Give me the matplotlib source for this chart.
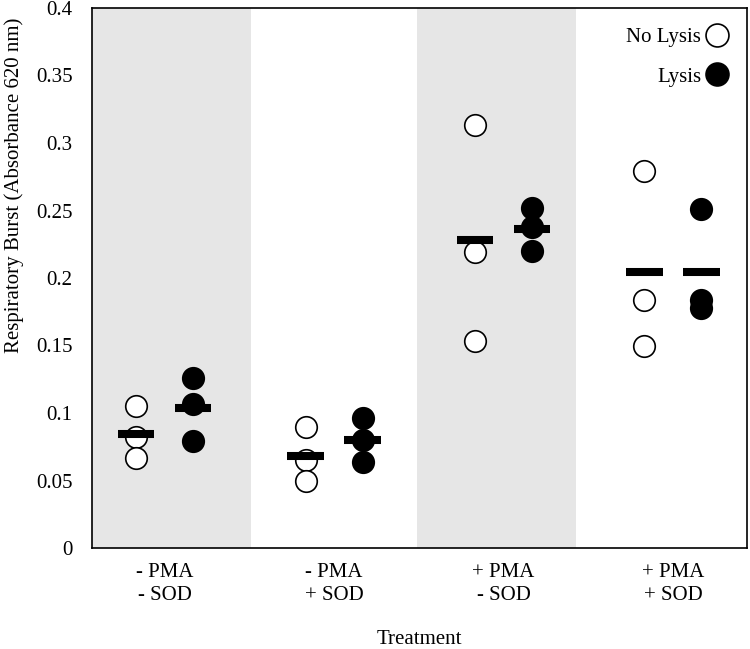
import matplotlib
matplotlib.use("Agg")
import matplotlib.pyplot as plt
import numpy as np

plt.rcParams['font.family'] = ['Liberation Serif', 'DejaVu Serif']

categories = ["- PMA\n- SOD", "- PMA\n+ SOD", "+ PMA\n- SOD", "+ PMA\n+ SOD"]
no_lysis = [
    [0.105, 0.082, 0.067],
    [0.090, 0.065, 0.050],
    [0.313, 0.219, 0.153],
    [0.279, 0.184, 0.150],
]
lysis = [
    [0.126, 0.107, 0.079],
    [0.096, 0.080, 0.064],
    [0.252, 0.238, 0.220],
    [0.251, 0.184, 0.178],
]
shaded_groups = [0, 2]

fig = plt.figure(figsize=(7.5, 6.49), dpi=100)
ax = fig.add_axes([92/750, 101/649, 655/750, 540/649])

centers = 0.443 + 1.035 * np.arange(len(categories))
off = 0.174

for g in shaded_groups:
    ax.axvspan(g * 0.9925, g * 0.9925 + 0.97, color='#e6e6e6', zorder=0, lw=0)

ms = 15.5
for i in range(len(categories)):
    xo = centers[i] - off
    xl = centers[i] + off
    ax.plot([xo] * len(no_lysis[i]), no_lysis[i], 'o', ms=ms, mfc='white',
            mec='black', mew=1.2, ls='none', zorder=3)
    ax.plot([xl] * len(lysis[i]), lysis[i], 'o', ms=ms, mfc='black',
            mec='black', mew=1.2, ls='none', zorder=3)
    ax.hlines(np.mean(no_lysis[i]), xo - 0.112, xo + 0.112, color='black', lw=5.8, zorder=4)
    ax.hlines(np.mean(lysis[i]), xl - 0.112, xl + 0.112, color='black', lw=5.8, zorder=4)

# legend handles
h1, = ax.plot([], [], 'o', ms=16.5, mfc='white', mec='black', mew=1.2, ls='none', label='No Lysis')
h2, = ax.plot([], [], 'o', ms=16.5, mfc='black', mec='black', mew=1.2, ls='none', label='Lysis')
ax.legend(handles=[h1, h2], loc='upper right', frameon=False, markerfirst=False,
          fontsize=15, handletextpad=0.25, labelspacing=0.95, borderaxespad=0.5,
          handlelength=1.0, borderpad=0.45)

ax.set_xlim(0, 4)
ax.set_ylim(0, 0.4)
ax.set_yticks(np.arange(0, 0.401, 0.05))
ax.set_yticklabels(['0', '0.05', '0.1', '0.15', '0.2', '0.25', '0.3', '0.35', '0.4'])
ax.set_xticks(centers)
ax.set_xticklabels(categories, linespacing=1.25)
ax.tick_params(axis='both', length=0, labelsize=15)
ax.tick_params(axis='y', pad=14)
ax.tick_params(axis='x', pad=11)
for s in ax.spines.values():
    s.set_linewidth(1.2)
    s.set_color('black')

ax.set_xlabel('Treatment', fontsize=15, labelpad=18)
ax.set_ylabel('Respiratory Burst (Absorbance 620 nm)', fontsize=15)
ax.yaxis.set_label_coords(-0.104, 0.672)

fig.savefig('out.png', dpi=100)
